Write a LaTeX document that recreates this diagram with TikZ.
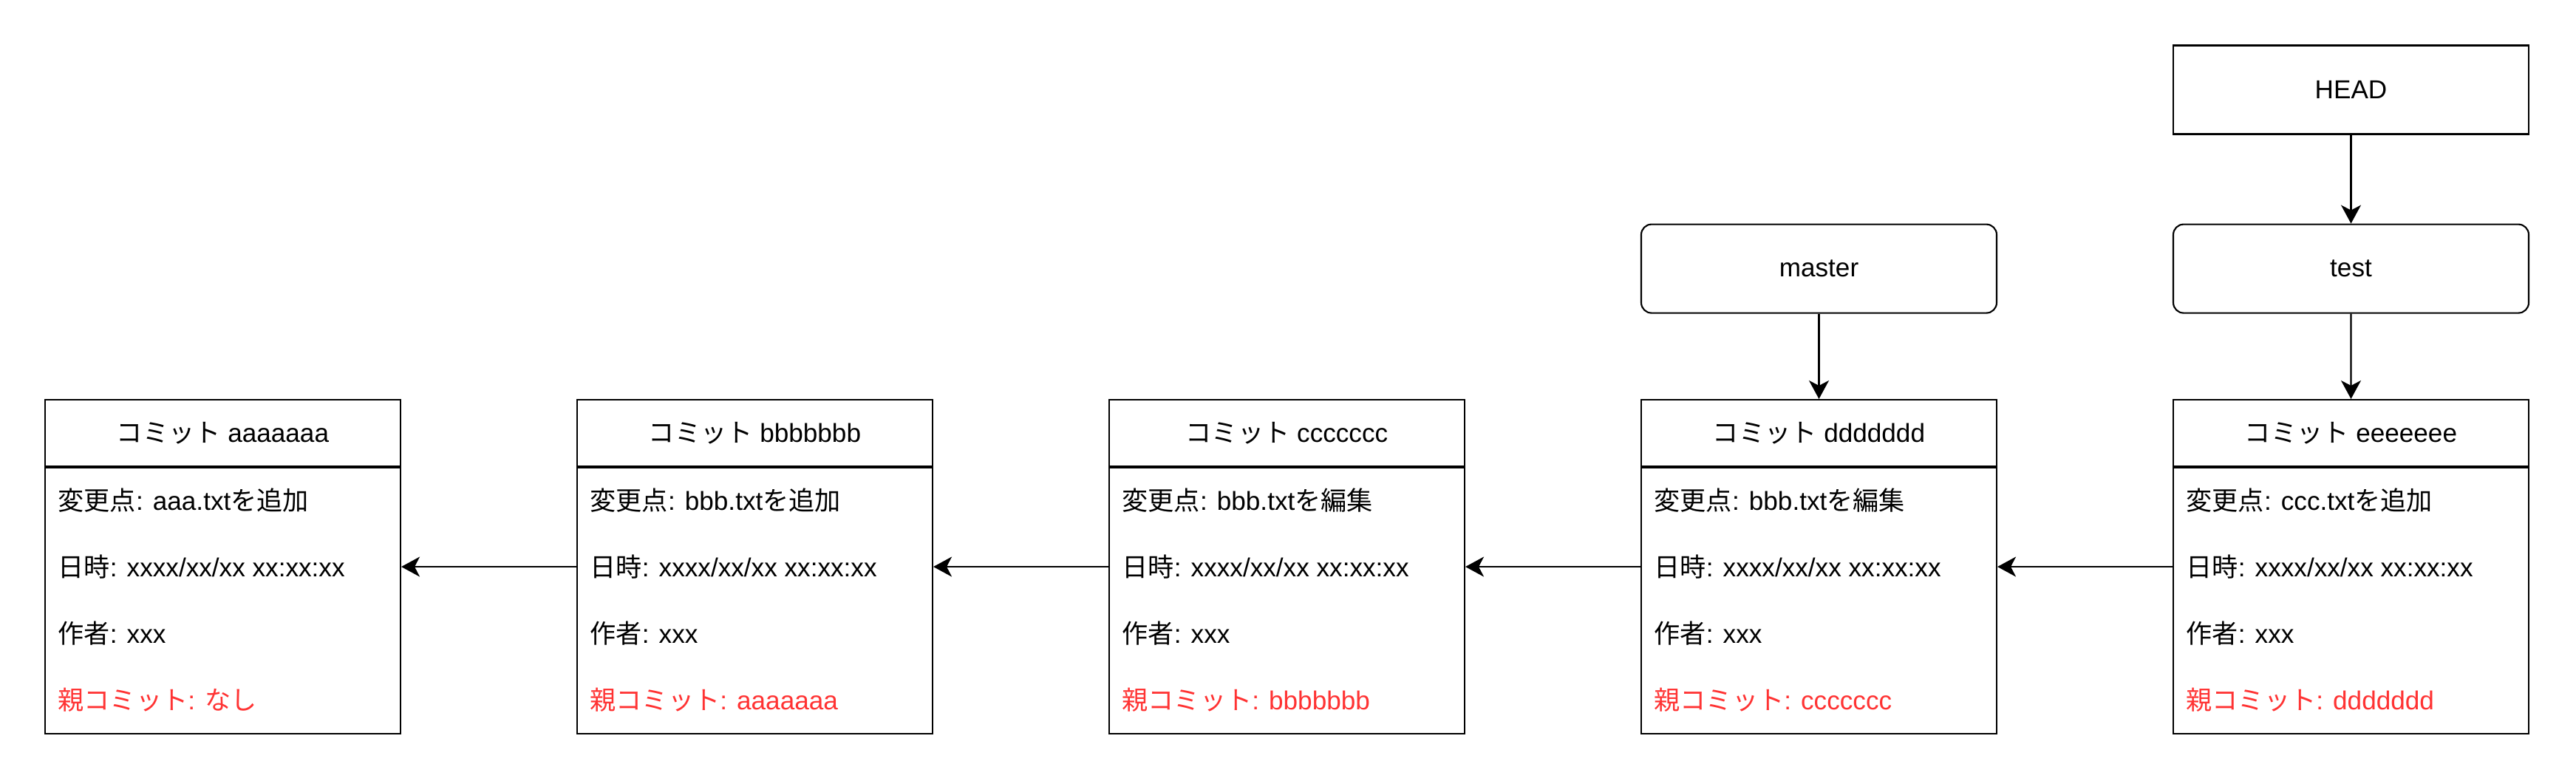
\documentclass[tikz,border=0pt]{standalone}
\usepackage{fontspec}
\setmainfont{Liberation Sans}
\newfontfamily\jp{Noto Sans CJK JP}
\usetikzlibrary{positioning,arrows.meta}
\definecolor{parred}{HTML}{FF3333}
\tikzset{
  box/.style={draw,line width=0.6pt,minimum width=4.81cm,inner sep=0pt,
    font=\fontsize{10}{12}\selectfont},
  hdr/.style={box,minimum height=0.9cm},              % commit title
  cbody/.style={box,minimum height=3.6cm,anchor=north}, % commit fields
  row/.style={anchor=west,inner sep=0pt,font=\fontsize{10}{12}\selectfont},
  refbox/.style={box,minimum height=1.2cm},
  branch/.style={refbox,rounded corners=0.14cm},      % branch label
  link/.style={-{Stealth[length=2.5mm,width=2.7mm,inset=0.7mm]},line width=0.6pt},
}
\begin{document}
\begin{tikzpicture}
  \useasboundingbox (0,0) rectangle (34.86,10.56);
  % commit chain, oldest on the left
  \foreach \hash/\chg/\prt [count=\n] in {
      aaaaaaa/{aaa.txt{\jp を追加}}/{{\jp なし}},
      bbbbbbb/{bbb.txt{\jp を追加}}/aaaaaaa,
      ccccccc/{bbb.txt{\jp を編集}}/bbbbbbb,
      ddddddd/{bbb.txt{\jp を編集}}/ccccccc,
      eeeeeee/{ccc.txt{\jp を追加}}/ddddddd}{
    \node[hdr] (h\n) at ({3.015+7.2*(\n-1)},4.70) {{\jp コミット} \hash};
    \node[cbody,below=0pt of h\n] (c\n) {};
    \node[row] (c\n-1) at ([xshift=0.18cm,yshift=-0.45cm]c\n.north west) {{\jp 変更点}: \chg};
    \node[row] (c\n-2) at ([yshift=-0.9cm]c\n-1.west) {{\jp 日時}: xxxx/xx/xx xx:xx:xx};
    \node[row] (c\n-3) at ([yshift=-0.9cm]c\n-2.west) {{\jp 作者}: xxx};
    \node[row,text=parred] (c\n-4) at ([yshift=-0.9cm]c\n-3.west) {{\jp 親コミット}: \prt};
  }
  % parent links
  \foreach \n [evaluate=\n as \m using int(\n-1)] in {2,...,5}
    \draw[link] (c\n.west |- c\n-2) -- (c\m.east |- c\n-2);
  % refs
  \node[refbox] (head) at (31.815,9.345) {HEAD};
  \node[branch,below=1.2cm of head] (test) {test};
  \node[branch] (master) at (test -| h4) {master};
  \draw[link] (head) -- (test);
  \draw[link] (test) -- (h5);
  \draw[link] (master) -- (h4);
\end{tikzpicture}
\end{document}
